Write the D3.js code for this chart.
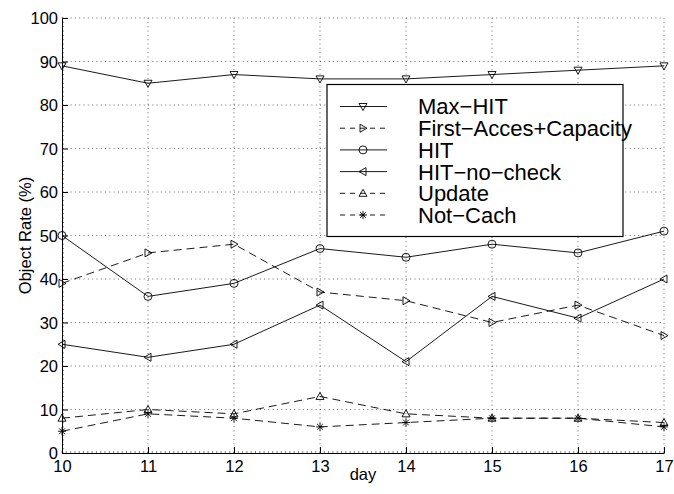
<!DOCTYPE html>
<html>
<head>
<meta charset="utf-8">
<script src="https://cdn.jsdelivr.net/npm/d3@7"></script>
<style>
  html, body { margin: 0; padding: 0; background: #fff; }
  svg { display: block; }
  text { font-family: "Liberation Sans", Arial, Helvetica, sans-serif; fill: #000; }
</style>
</head>
<body>
<svg id="chart" width="674" height="494"></svg>
<script>
// Days on the x axis
const days = [10, 11, 12, 13, 14, 15, 16, 17];

// Object rate (%) per policy and day
const maxHit      = [89, 85, 87, 86, 86, 87, 88, 89];
const firstAccCap = [39, 46, 48, 37, 35, 30, 34, 27];
const hit         = [50, 36, 39, 47, 45, 48, 46, 51];
const hitNoCheck  = [25, 22, 25, 34, 21, 36, 31, 40];
const update      = [8, 10, 9, 13, 9, 8, 8, 7];
const notCach     = [5, 9, 8, 6, 7, 8, 8, 6];

const seriesNames = ["Max\u2212HIT", "First\u2212Acces+Capacity", "HIT", "HIT\u2212no\u2212check", "Update", "Not\u2212Cach"];
const seriesValues = [maxHit, firstAccCap, hit, hitNoCheck, update, notCach];
const seriesMarkers = ["tri-down", "tri-right", "circle", "tri-left", "tri-up", "star"];
const seriesDashed = [false, true, false, false, true, true];

const xTicks = [10, 11, 12, 13, 14, 15, 16, 17];
const yTicks = [0, 10, 20, 30, 40, 50, 60, 70, 80, 90, 100];

const svg = d3.select("#chart");
const plot = { left: 62, right: 664, top: 18, bottom: 453 };

const x = d3.scaleLinear().domain([10, 17]).range([plot.left, plot.right]);
const y = d3.scaleLinear().domain([0, 100]).range([plot.bottom, plot.top]);

// Dotted grid
const grid = svg.append("g");
grid.selectAll("line.gx").data(xTicks.slice(1)).join("line")
  .attr("x1", d => x(d)).attr("x2", d => x(d))
  .attr("y1", plot.bottom).attr("y2", plot.top)
  .attr("stroke", "#444").attr("stroke-width", 0.8).attr("stroke-dasharray", "1,3.3");
grid.selectAll("line.gy").data(yTicks.slice(1)).join("line")
  .attr("x1", plot.left).attr("x2", plot.right)
  .attr("y1", d => y(d)).attr("y2", d => y(d))
  .attr("stroke", "#444").attr("stroke-width", 0.8).attr("stroke-dasharray", "1,3.3");

// Minor ticks (inward)
const minor = svg.append("g").attr("stroke", "#333").attr("stroke-width", 0.6);
minor.selectAll("line.my").data(d3.range(0, 100.01, 1)).join("line")
  .attr("x1", plot.left).attr("x2", plot.left + 2)
  .attr("y1", d => y(d)).attr("y2", d => y(d));
minor.selectAll("line.mx").data(d3.range(10, 17.001, 0.05)).join("line")
  .attr("x1", d => x(d)).attr("x2", d => x(d))
  .attr("y1", plot.bottom).attr("y2", plot.bottom - 2);

// Axes with inward major ticks
const xAxis = d3.axisBottom(x).tickValues(xTicks).tickFormat(d3.format("d")).tickSizeInner(-6).tickSizeOuter(0).tickPadding(10);
const yAxis = d3.axisLeft(y).tickValues(yTicks).tickFormat(d3.format("d")).tickSizeInner(-6).tickSizeOuter(0).tickPadding(4);

const gx = svg.append("g").attr("transform", `translate(0,${plot.bottom})`).call(xAxis);
const gy = svg.append("g").attr("transform", `translate(${plot.left},0)`).call(yAxis);
[gx, gy].forEach(g => {
  g.select(".domain").attr("stroke", "#000").attr("stroke-width", 1);
  g.selectAll(".tick line").attr("stroke", "#000").attr("stroke-width", 1);
  g.selectAll(".tick text").attr("font-size", "16.5px").attr("font-family", "'Liberation Sans', Arial, sans-serif").attr("fill", "#000");
});
gx.selectAll(".tick text").attr("dy", "0.71em").attr("y", 7);
gy.selectAll(".tick text").attr("x", -4).attr("dy", "0.36em");

// Axis titles
svg.append("text").attr("x", (plot.left + plot.right) / 2).attr("y", 480)
  .attr("text-anchor", "middle").attr("font-size", "16.5px").text("day");
svg.append("text")
  .attr("transform", `translate(31,${(plot.top + plot.bottom) / 2}) rotate(-90)`)
  .attr("text-anchor", "middle").attr("font-size", "16.5px").text("Object Rate (%)");

// Marker drawing
function drawMarker(g, type, cx, cy) {
  const s = 4;
  const mk = g.append("g").attr("transform", `translate(${cx},${cy})`)
    .attr("fill", "none").attr("stroke", "#000").attr("stroke-width", 0.9);
  if (type === "circle") {
    mk.append("circle").attr("r", s);
  } else if (type === "star") {
    const r = 4;
    const d = r * 0.72;
    mk.append("path").attr("d",
      `M${-r},0L${r},0M0,${-r}L0,${r}M${-d},${-d}L${d},${d}M${-d},${d}L${d},${-d}`);
  } else {
    const angle = { "tri-up": 0, "tri-down": 180, "tri-right": 90, "tri-left": -90 }[type];
    mk.append("path").attr("d", `M0,${-s}L${s},${s * 0.75}L${-s},${s * 0.75}Z`)
      .attr("transform", `rotate(${angle})`);
  }
}

// Series lines and markers
const line = d3.line().x((d, i) => x(days[i])).y(d => y(d));
seriesValues.forEach((vals, si) => {
  const g = svg.append("g");
  g.append("path").datum(vals).attr("d", line)
    .attr("fill", "none").attr("stroke", "#000").attr("stroke-width", 0.9)
    .attr("stroke-dasharray", seriesDashed[si] ? "8,5" : null);
  vals.forEach((v, i) => drawMarker(g, seriesMarkers[si], x(days[i]), y(v)));
});

// Legend
const lg = svg.append("g");
lg.append("rect").attr("x", 327).attr("y", 84.5).attr("width", 296).attr("height", 152)
  .attr("fill", "#fff").attr("stroke", "#000").attr("stroke-width", 1.2);
seriesNames.forEach((name, i) => {
  const cy = 106.5 + i * 21.7;
  const row = lg.append("g");
  row.append("line").attr("x1", 340).attr("x2", 387).attr("y1", cy).attr("y2", cy)
    .attr("stroke", "#000").attr("stroke-width", 0.9)
    .attr("stroke-dasharray", seriesDashed[i] ? "5,5" : null);
  drawMarker(row, seriesMarkers[i], 363, cy);
  row.append("text").attr("x", 418).attr("y", cy).attr("dy", "0.36em")
    .attr("font-size", "22px").text(name);
});
</script>
</body>
</html>
